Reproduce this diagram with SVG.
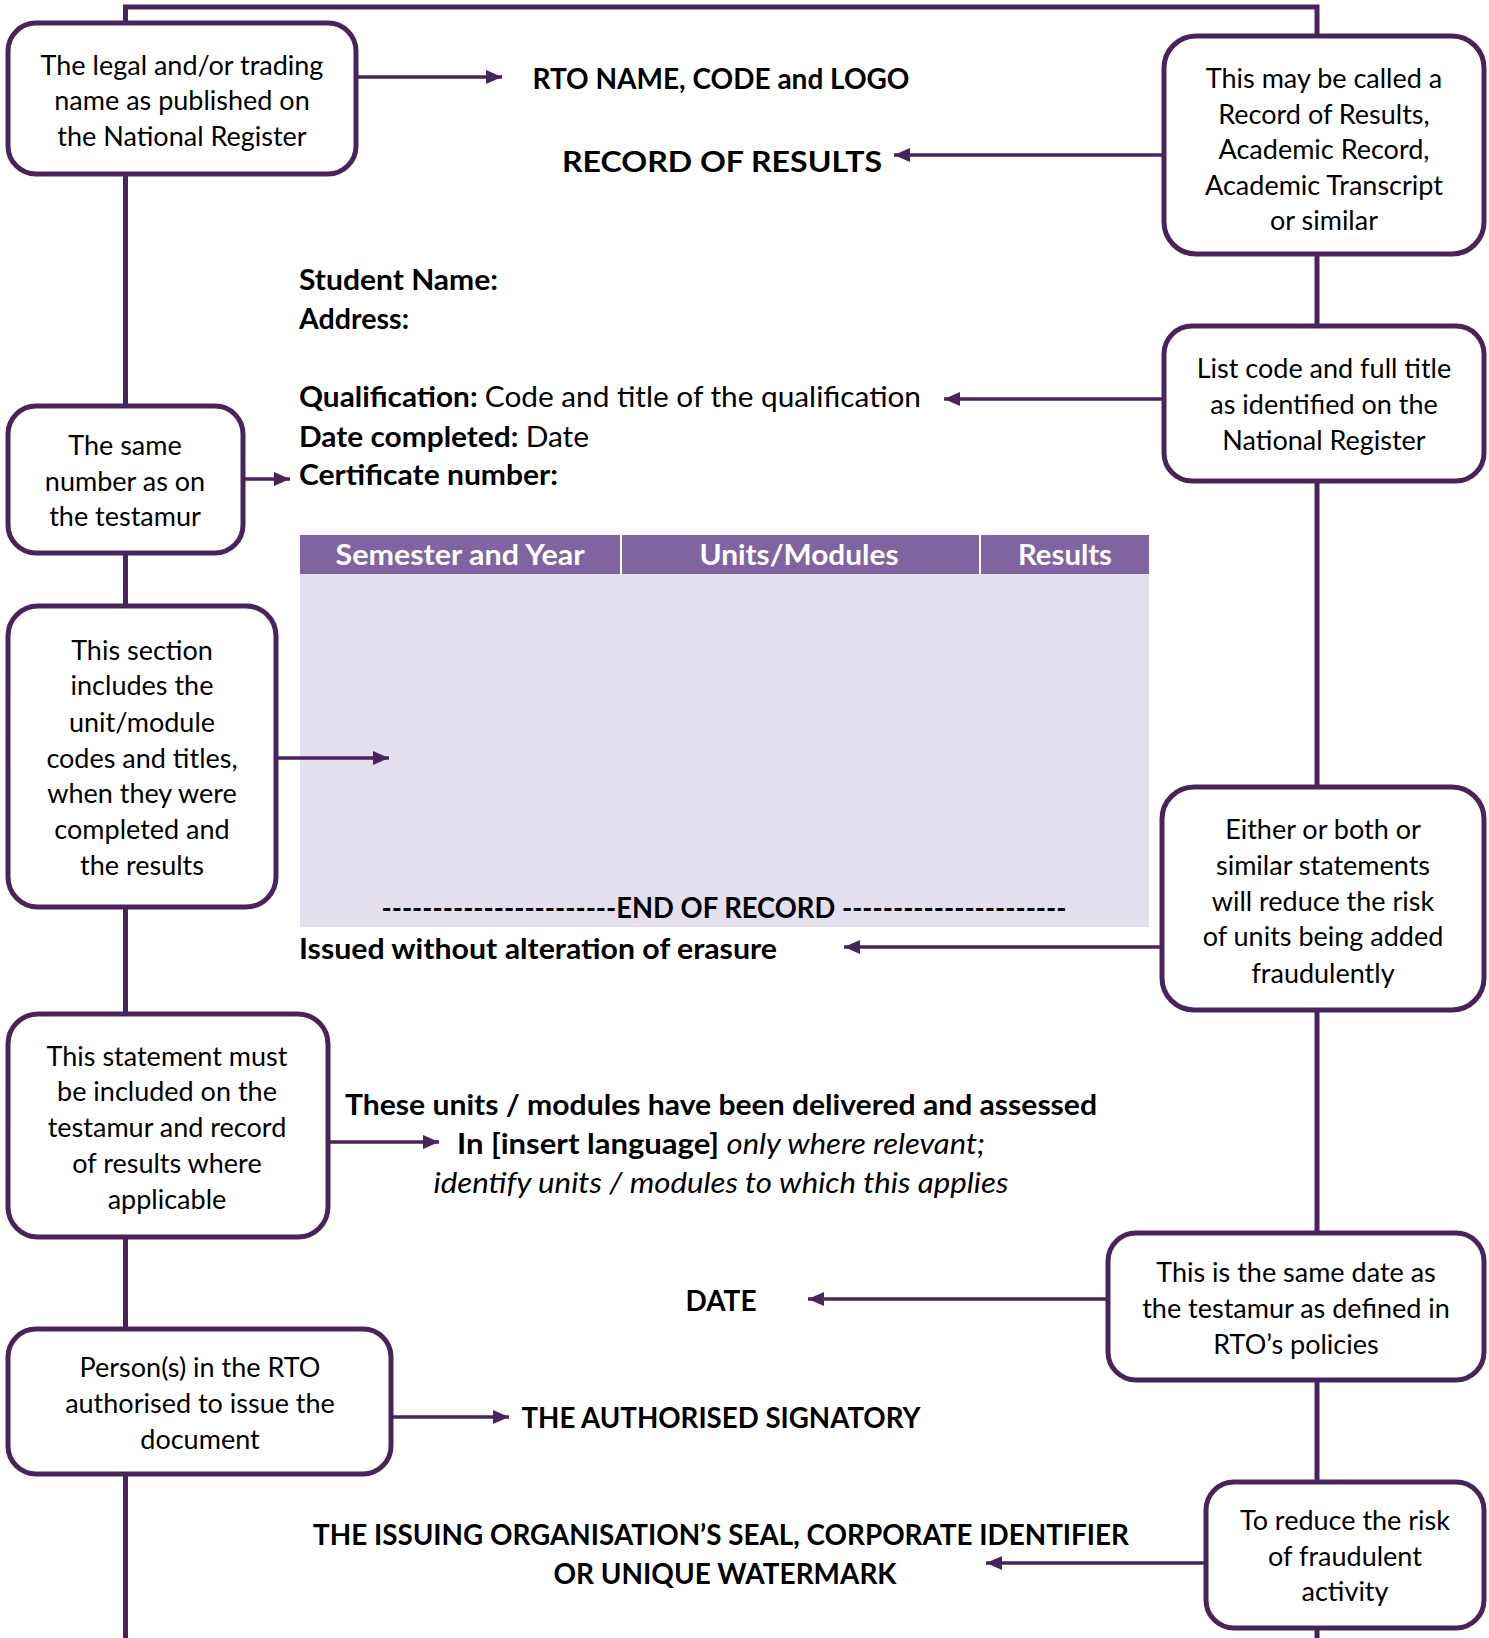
<svg xmlns="http://www.w3.org/2000/svg" width="1489" height="1638" viewBox="0 0 1489 1638">
<defs>
<style>
.box{fill:#ffffff;stroke:#48245c;stroke-width:5}
.line{stroke:#48245c;stroke-width:5;fill:none}
.arr{stroke:#48245c;stroke-width:3.5;fill:none;marker-end:url(#ah)}
.t{font-family:Lato,"Liberation Sans",sans-serif;font-size:27px;fill:#000;text-anchor:middle}
.b{font-family:Lato,"Liberation Sans",sans-serif;font-weight:bold;font-size:29px;fill:#000}
.c{text-anchor:middle}
.h{font-family:Lato,"Liberation Sans",sans-serif;font-weight:bold;font-size:28px;fill:#fff;text-anchor:middle}
.n{font-weight:normal}
.i{font-weight:normal;font-style:italic}
</style>
<marker id="ah" markerUnits="userSpaceOnUse" markerWidth="16" markerHeight="14" viewBox="0 0 16 14" refX="16" refY="7" orient="auto">
<path d="M0,0 L16,7 L0,14 z" fill="#48245c"/>
</marker>
</defs>
<rect width="1489" height="1638" fill="#ffffff"/>

<g id="document">
<text class="b c" x="721" y="89" textLength="377" lengthAdjust="spacingAndGlyphs">RTO NAME, CODE and LOGO</text>
<text class="b c" x="722" y="172" font-size="34" textLength="320" lengthAdjust="spacingAndGlyphs">RECORD OF RESULTS</text>
<text class="b" x="299" y="290" textLength="199" lengthAdjust="spacingAndGlyphs">Student Name:</text>
<text class="b" x="299" y="329" textLength="110" lengthAdjust="spacingAndGlyphs">Address:</text>
<text class="b" x="299" y="407" textLength="622" lengthAdjust="spacingAndGlyphs">Qualification: <tspan class="n">Code and title of the qualification</tspan></text>
<text class="b" x="299" y="447" textLength="290" lengthAdjust="spacingAndGlyphs">Date completed: <tspan class="n">Date</tspan></text>
<text class="b" x="299" y="485" textLength="259" lengthAdjust="spacingAndGlyphs">Certificate number:</text>

<rect x="300" y="535" width="849" height="39" fill="#8064a2"/>
<rect x="300" y="574" width="849" height="353" fill="#e4dfec"/>
<line x1="621" y1="535" x2="621" y2="574" stroke="#ffffff" stroke-width="2"/>
<line x1="980" y1="535" x2="980" y2="574" stroke="#ffffff" stroke-width="2"/>
<text class="h" x="460" y="565" textLength="249" lengthAdjust="spacingAndGlyphs">Semester and Year</text>
<text class="h" x="799" y="565" textLength="199" lengthAdjust="spacingAndGlyphs">Units/Modules</text>
<text class="h" x="1065" y="565" textLength="94" lengthAdjust="spacingAndGlyphs">Results</text>
<text class="b c" x="724" y="918" textLength="685" lengthAdjust="spacingAndGlyphs">-----------------------END OF RECORD ----------------------</text>
<text class="b" x="299" y="959" textLength="478" lengthAdjust="spacingAndGlyphs">Issued without alteration of erasure</text>

<text class="b c" x="721" y="1115" textLength="752" lengthAdjust="spacingAndGlyphs">These units / modules have been delivered and assessed</text>
<text class="b c" x="721" y="1154" textLength="528" lengthAdjust="spacingAndGlyphs">In [insert language] <tspan class="i">only where relevant;</tspan></text>
<text class="b c i" x="721" y="1193" textLength="575" lengthAdjust="spacingAndGlyphs">identify units / modules to which this applies</text>

<text class="b c" x="721" y="1311" textLength="71" lengthAdjust="spacingAndGlyphs">DATE</text>
<text class="b c" x="721" y="1428" textLength="399" lengthAdjust="spacingAndGlyphs">THE AUTHORISED SIGNATORY</text>
<text class="b c" x="721" y="1545" textLength="816" lengthAdjust="spacingAndGlyphs">THE ISSUING ORGANISATION’S SEAL, CORPORATE IDENTIFIER</text>
<text class="b c" x="725" y="1584" textLength="343" lengthAdjust="spacingAndGlyphs">OR UNIQUE WATERMARK</text>
</g>

<g id="connectors">
<path class="line" d="M125.5,1638 V7 H1317 V1638"/>
<line class="arr" x1="356" y1="77" x2="502" y2="77"/>
<line class="arr" x1="1164" y1="155" x2="894" y2="155"/>
<line class="arr" x1="1164" y1="399" x2="944" y2="399"/>
<line class="arr" x1="243" y1="479" x2="290" y2="479"/>
<line class="arr" x1="276" y1="758" x2="389" y2="758"/>
<line class="arr" x1="1162" y1="947" x2="844" y2="947"/>
<line class="arr" x1="328" y1="1142" x2="439" y2="1142"/>
<line class="arr" x1="1108" y1="1299" x2="808" y2="1299"/>
<line class="arr" x1="391" y1="1417" x2="509" y2="1417"/>
<line class="arr" x1="1206" y1="1563" x2="986" y2="1563"/>
</g>

<g id="n-legal-name">
<rect class="box" x="8" y="23" width="348" height="151" rx="28"/>
<text class="t" x="182"><tspan x="182" y="75">The legal and/or trading</tspan><tspan x="182" y="110">name as published on</tspan><tspan x="182" y="146">the National Register</tspan></text>
</g>
<g id="n-same-number">
<rect class="box" x="8" y="406" width="235" height="147" rx="28"/>
<text class="t" x="125"><tspan x="125" y="455">The same</tspan><tspan x="125" y="491">number as on</tspan><tspan x="125" y="526">the testamur</tspan></text>
</g>
<g id="n-section">
<rect class="box" x="8" y="606" width="268" height="301" rx="30"/>
<text class="t" x="142"><tspan x="142" y="660">This section</tspan><tspan x="142" y="695">includes the</tspan><tspan x="142" y="732">unit/module</tspan><tspan x="142" y="768">codes and titles,</tspan><tspan x="142" y="803">when they were</tspan><tspan x="142" y="839">completed and</tspan><tspan x="142" y="875">the results</tspan></text>
</g>
<g id="n-statement">
<rect class="box" x="8" y="1014" width="320" height="223" rx="30"/>
<text class="t" x="167"><tspan x="167" y="1066">This statement must</tspan><tspan x="167" y="1101">be included on the</tspan><tspan x="167" y="1137">testamur and record</tspan><tspan x="167" y="1173">of results where</tspan><tspan x="167" y="1209">applicable</tspan></text>
</g>
<g id="n-person">
<rect class="box" x="8" y="1329" width="383" height="145" rx="28"/>
<text class="t" x="200"><tspan x="200" y="1377">Person(s) in the RTO</tspan><tspan x="200" y="1413">authorised to issue the</tspan><tspan x="200" y="1449">document</tspan></text>
</g>

<g id="n-record-name">
<rect class="box" x="1164" y="36" width="320" height="218" rx="32"/>
<text class="t" x="1324"><tspan x="1324" y="88">This may be called a</tspan><tspan x="1324" y="124">Record of Results,</tspan><tspan x="1324" y="159">Academic Record,</tspan><tspan x="1324" y="195">Academic Transcript</tspan><tspan x="1324" y="230">or similar</tspan></text>
</g>
<g id="n-list-code">
<rect class="box" x="1164" y="326" width="320" height="155" rx="28"/>
<text class="t" x="1324"><tspan x="1324" y="378">List code and full title</tspan><tspan x="1324" y="414">as identified on the</tspan><tspan x="1324" y="450">National Register</tspan></text>
</g>
<g id="n-either">
<rect class="box" x="1162" y="787" width="322" height="223" rx="32"/>
<text class="t" x="1323"><tspan x="1323" y="839">Either or both or</tspan><tspan x="1323" y="875">similar statements</tspan><tspan x="1323" y="911">will reduce the risk</tspan><tspan x="1323" y="946">of units being added</tspan><tspan x="1323" y="983">fraudulently</tspan></text>
</g>
<g id="n-same-date">
<rect class="box" x="1108" y="1233" width="376" height="147" rx="28"/>
<text class="t" x="1296"><tspan x="1296" y="1282">This is the same date as</tspan><tspan x="1296" y="1318">the testamur as defined in</tspan><tspan x="1296" y="1354">RTO’s policies</tspan></text>
</g>
<g id="n-reduce-risk">
<rect class="box" x="1206" y="1482" width="278" height="146" rx="28"/>
<text class="t" x="1345"><tspan x="1345" y="1530">To reduce the risk</tspan><tspan x="1345" y="1566">of fraudulent</tspan><tspan x="1345" y="1601">activity</tspan></text>
</g>
</svg>
